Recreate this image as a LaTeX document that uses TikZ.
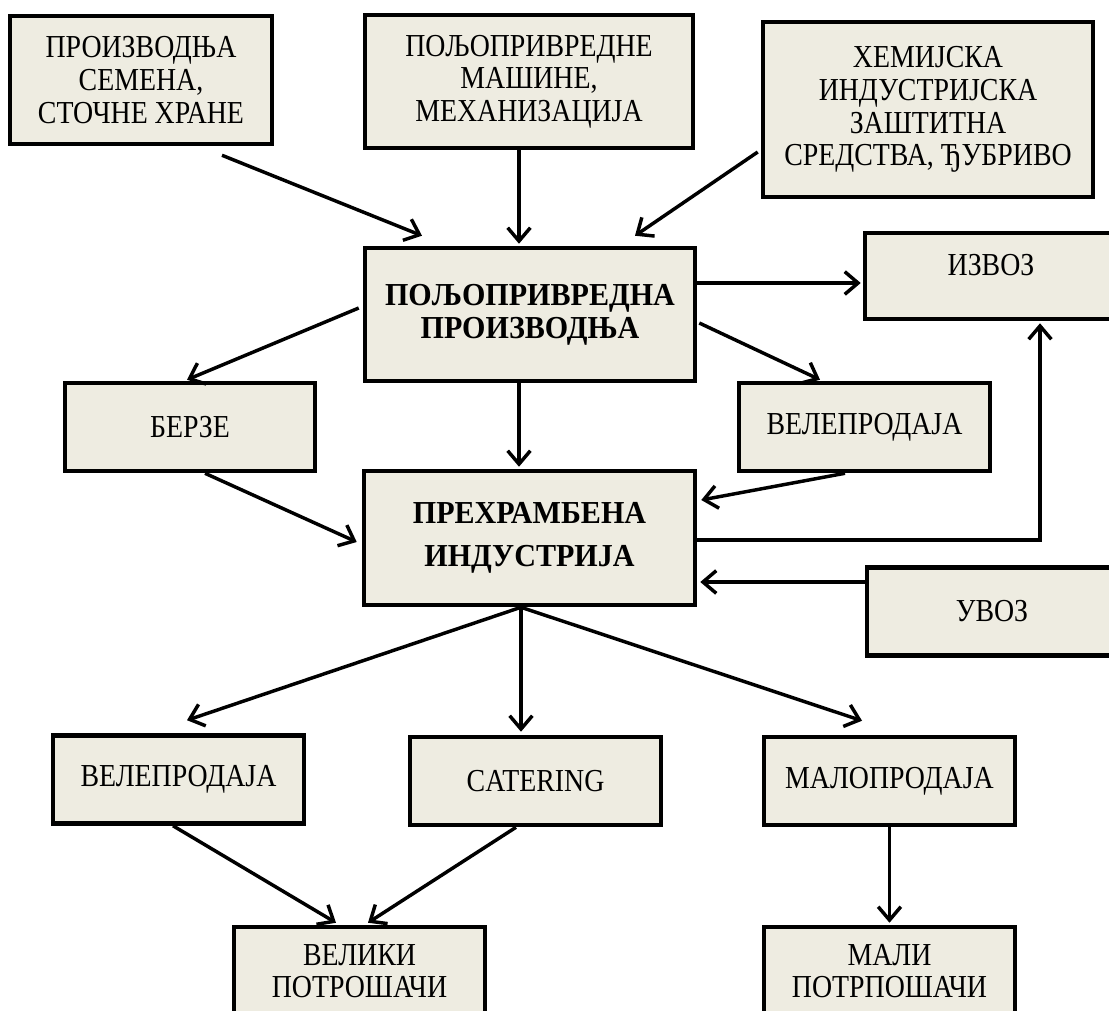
\documentclass[tikz,border=0pt]{standalone}
\usepackage{fontspec}
\setmainfont{Liberation Serif}[FakeStretch=0.87,BoldFeatures={FakeStretch=0.94}]
\usetikzlibrary{calc,arrows.meta}

\definecolor{boxfill}{RGB}{238,236,225}

\tikzset{every picture/.style={line width=0.75pt}}
\tikzset{
  box/.style={draw, line width=3.4pt, fill=boxfill, align=center, inner sep=2pt,
    minimum width=188.25pt, minimum height=66pt,
    font=\fontsize{24}{24.5}\selectfont},
  bigbox/.style={box, font=\fontsize{24}{25}\selectfont\bfseries},
  arr/.style={line width=2.6pt, -{Straight Barb[length=10pt,width=17pt,line width=2.6pt]}}
}

\begin{document}
\begin{tikzpicture}[x=0.75pt,y=0.75pt,yscale=-1,xscale=1]
	%set diagram size
	\clip (0,0) rectangle (1109,1010);

	%Inputs
	\node [box, minimum width=196.5pt, minimum height=96pt] (prod) at (141,80) {ПРОИЗВОДЊА\\СЕМЕНА,\\СТОЧНЕ ХРАНЕ};
	\node [box, minimum width=246pt, minimum height=99.75pt] (mach) at (529,81.5) {ПОЉОПРИВРЕДНЕ\\МАШИНЕ,\\МЕХАНИЗАЦИЈА};
	\node [box, minimum width=247.5pt, minimum height=131.25pt] (chem) at (928,109.5) {ХЕМИЈСКА\\ИНДУСТРИЈСКА\\ЗАШТИТНА\\СРЕДСТВА, ЂУБРИВО};

	%Main boxes
	\node [bigbox, minimum width=247.5pt, minimum height=99.75pt] (agri) at (530,314.5) {ПОЉОПРИВРЕДНА\\ПРОИЗВОДЊА};
	\node [bigbox, minimum width=248.25pt, minimum height=100.5pt] (food) at (529.5,538) {ПРЕХРАМБЕНА\\[7pt]ИНДУСТРИЈА};

	%Side boxes
	\node [box, minimum width=189pt, minimum height=64.5pt, text depth=16pt] (izvoz) at (991,276) {ИЗВОЗ};
	\node [box, minimum width=187.5pt] (uvoz) at (992,611.5) {УВОЗ};
	\node [box, minimum width=187.5pt] (berze) at (190,427) {БЕРЗЕ};
	\node [box] (wholesaleA) at (864.5,427) {ВЕЛЕПРОДАЈА};

	%Outputs
	\node [box] (wholesaleB) at (178.5,779.5) {ВЕЛЕПРОДАЈА};
	\node [box] (catering) at (535.5,781) {CATERING};
	\node [box] (retail) at (889.5,781) {МАЛОПРОДАЈА};
	\node [box] (bigcons) at (359.5,971) {ВЕЛИКИ\\ПОТРОШАЧИ};
	\node [box] (smallcons) at (889.5,971) {МАЛИ\\ПОТРПОШАЧИ};

	%Arrows into production
	\draw [arr] ($(prod.south)+(81,9)$) -- ($(agri.north)+(-108,-10)$);
	\draw [arr] ($(mach.south)+(-10,0)$) -- ($(agri.north)+(-11,-2)$);
	\draw [arr] ($(chem.west)+(-3,42.5)$) -- ($(agri.north)+(105,-10)$);

	%Arrows out of production
	\draw [arr] ($(agri.east)+(0,-31.5)$) -- ($(izvoz.west)+(-2,7)$);
	\draw [arr] ($(agri.west)+(-4,-6.5)$) -- ($(berze.north)+(-3,-1)$);
	\draw [arr] ($(agri.east)+(2,8.5)$) -- ($(wholesaleA.north)+(-44.5,-1)$);
	\draw [arr] ($(agri.south)+(-11,0)$) -- ($(food.north)+(-10.5,-2)$);

	%Arrows into food industry
	\draw [arr] ($(berze.south)+(15,0)$) -- ($(food.west)+(-5,4)$);
	\draw [arr] ($(wholesaleA.south)+(-19.5,0)$) -- ($(food.east)+(4,-38)$);
	\draw [arr] ($(uvoz.west)+(0,-29.5)$) -- ($(food.east)+(3,44)$);
	\draw [arr] ($(food.east)+(0,2)$) -| ($(izvoz.south)+(49,2)$);

	%Arrows out of food industry
	\draw [arr] ($(food.south)+(-8.5,0)$) -- ($(wholesaleB.north)+(8.5,-13)$);
	\draw [arr] ($(food.south)+(-8.5,0)$) -- ($(catering.north)+(-14.5,-3)$);
	\draw [arr] ($(food.south)+(-8.5,0)$) -- ($(retail.north)+(-27.5,-14)$);

	%Consumers
	\draw [arr] ($(wholesaleB.south)+(-5.5,0)$) -- ($(bigcons.north)+(-23.5,-2)$);
	\draw [arr] ($(catering.south)+(-19.5,0)$) -- ($(bigcons.north)+(8.5,-2)$);
	\draw [arr] (retail.south) -- ($(smallcons.north)+(0,-2)$);

\end{tikzpicture}
\end{document}
